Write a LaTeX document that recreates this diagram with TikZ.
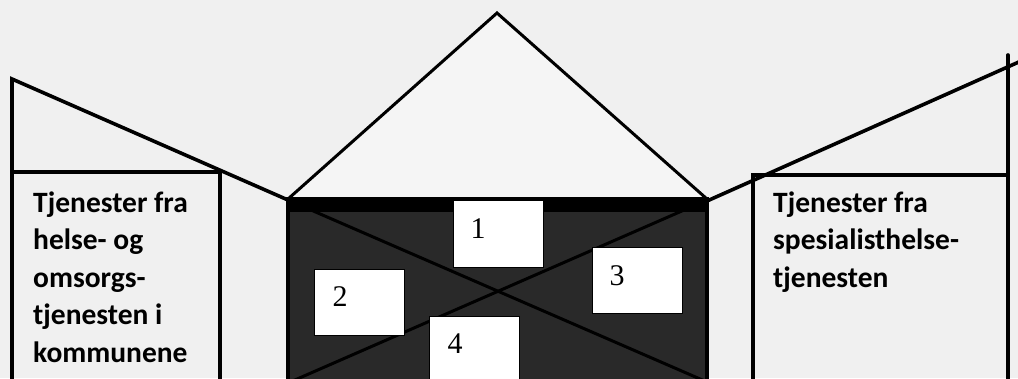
\documentclass[tikz,border=0pt]{standalone}
\usepackage{fontspec}
\setmainfont{Liberation Serif}
\newfontfamily\labelfont{Carlito}
\tikzset{
  wingline/.style={line width=3.6pt, line cap=round, line join=miter},
  roofline/.style={line width=3pt, line join=miter},
  wingtext/.style={anchor=base west, inner sep=0pt,
    font=\labelfont\bfseries\fontsize{29.5}{37.5}\selectfont},
  roombox/.style={draw=black, line width=1pt, fill=white},
  digit/.style={anchor=base, inner sep=0pt, font=\fontsize{30}{30}\selectfont},
  crossline/.style={line width=3pt, draw=black},
}
\begin{document}
\begin{tikzpicture}[x=1pt,y=-1pt]
\useasboundingbox (0,0) rectangle (1018,378);
\clip (0,0) rectangle (1018,378);
\fill[black!6] (0,0) rectangle (1018,378);
% left wing
\draw[wingline] (12,390) -- (12,79) -- (288,200);
\draw[wingline] (12,172) -- (220,172) -- (220,390);
% right wing
\draw[wingline] (707,201) -- (1030,57);
\draw[wingline] (1008,55) -- (1008,390);
\draw[wingline] (753,390) -- (753,175) -- (1008,175);
% house roof
\fill[white!96!black] (288,199) -- (497,13) -- (707,199) -- cycle;
\draw[roofline] (288,199) -- (497,13) -- (707,199);
% house body
\fill[black!84] (288,199) rectangle (707,390);
\draw[crossline] (288,200) -- (707,382);
\draw[crossline] (707,200) -- (288,383);
\draw[line width=4.5pt] (288,390) -- (288,199) -- (707,199) -- (707,390);
\fill[black] (288,199) rectangle (707,212);
% rooms
\node[roombox, minimum width=90pt, minimum height=67pt, anchor=north west] (r1) at (453,200) {};
\node[roombox, minimum width=90pt, minimum height=66pt, anchor=north west] (r2) at (314,269) {};
\node[roombox, minimum width=90pt, minimum height=66pt, anchor=north west] (r3) at (592,247) {};
\node[roombox, minimum width=90pt, minimum height=80pt, anchor=north west] (r4) at (429,316) {};
\node[digit] (d1) at (478,238) {1};
\node[digit] (d2) at (340,306) {2};
\node[digit] (d3) at (617,285) {3};
\node[digit] (d4) at (455,353) {4};
% wing texts
\node[wingtext] (lt) at (33,212) {\parbox[t]{180pt}{\raggedright Tjenester fra\\helse- og\\omsorgs-\\tjenesten i\\kommunene}};
\node[wingtext] (rt) at (773,212) {\parbox[t]{230pt}{\raggedright Tjenester fra\\spesialisthelse-\\tjenesten}};
\end{tikzpicture}
\end{document}
